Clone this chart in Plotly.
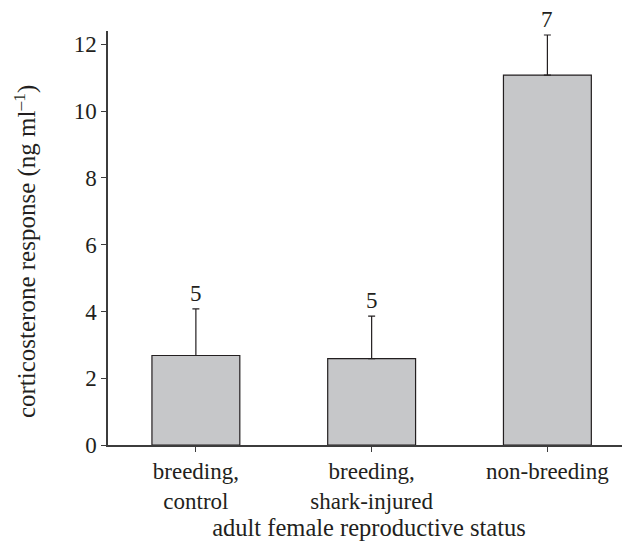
import plotly.graph_objects as go

categories = ["breeding,<br>control", "breeding,<br>shark-injured", "non-breeding"]
means = [2.68, 2.59, 11.08]
errors = [1.40, 1.27, 1.20]
n_labels = ["5", "5", "7"]
y_ticks = [0, 2, 4, 6, 8, 10, 12]
y_title = "corticosterone response (ng ml<sup>–1</sup>)"
x_title = "adult female reproductive status"

FONT = "Liberation Serif"
TXT = "#231f20"
AX = "#3c3c3c"
FS = 23

fig = go.Figure()
fig.add_trace(go.Bar(
    x=list(range(len(categories))),
    y=means,
    width=0.5,
    marker=dict(color="#c6c7c9", line=dict(color="#231f20", width=1.2)),
    error_y=dict(type="data", symmetric=False, array=errors,
                 arrayminus=[0] * len(errors), color="#231f20",
                 thickness=1.2, width=3.5),
    showlegend=False,
))

for i, (m, e, t) in enumerate(zip(means, errors, n_labels)):
    fig.add_annotation(x=i, y=m + e, text=t, showarrow=False,
                       yanchor="bottom", yshift=1,
                       font=dict(family=FONT, size=FS, color=TXT))

fig.add_annotation(xref="paper", yref="paper", x=-0.159, y=0.466,
                   text=y_title, textangle=-90, showarrow=False,
                   xanchor="center", yanchor="middle",
                   font=dict(family=FONT, size=25, color=TXT))

fig.update_layout(
    width=622, height=533,
    margin=dict(l=100, r=0, t=23, b=96),
    plot_bgcolor="white", paper_bgcolor="white",
    font=dict(family=FONT, size=FS, color=TXT),
    bargap=0.5,
)
fig.update_xaxes(
    range=[-0.5, 2.47],
    tickmode="array", tickvals=list(range(len(categories))), ticktext=categories,
    ticks="outside", ticklen=5, tickcolor=AX,
    showline=True, linecolor=AX, linewidth=1.5,
    showgrid=False, zeroline=False,
    title=dict(text=x_title, standoff=3,
               font=dict(family=FONT, size=24.5, color=TXT)),
)
fig.update_yaxes(
    range=[0, 12.4],
    tickmode="array", tickvals=y_ticks,
    ticks="outside", ticklen=5, tickcolor=AX,
    showline=True, linecolor=AX, linewidth=1.5,
    showgrid=False, zeroline=False,
)

fig.write_html("out.html")
